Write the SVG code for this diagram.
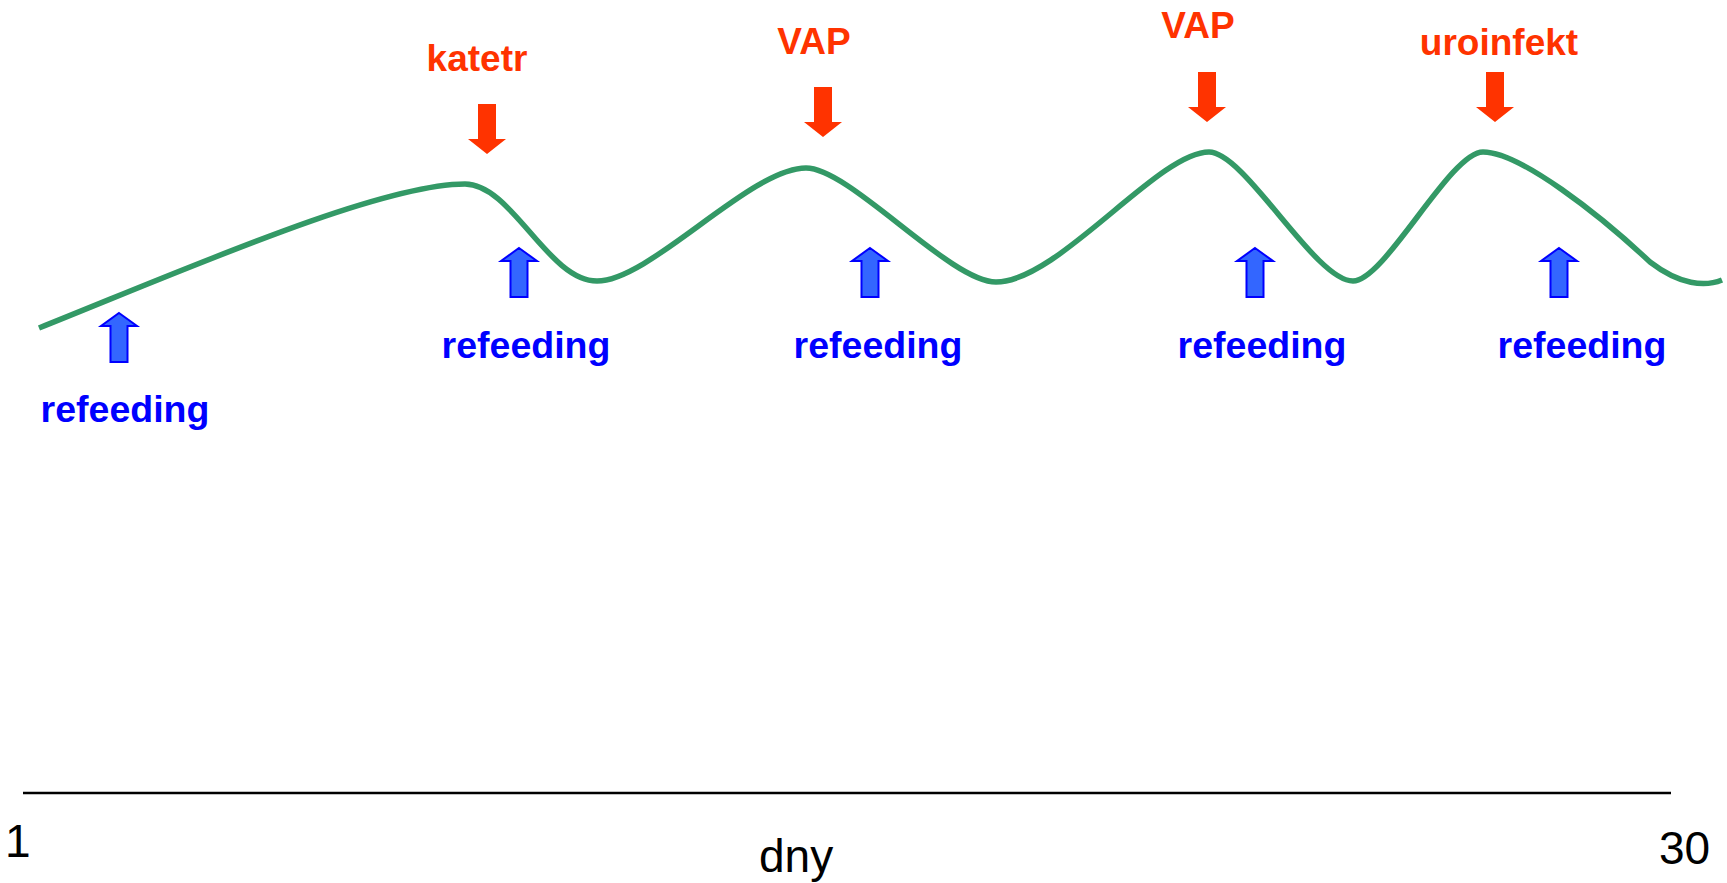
<svg xmlns="http://www.w3.org/2000/svg" width="1727" height="883" viewBox="0 0 1727 883">
<style>
.red{font-family:"Liberation Sans",Arial,sans-serif;font-weight:bold;font-size:37px;fill:#FF3300;text-anchor:middle}
.blue{font-family:"Liberation Sans",Arial,sans-serif;font-weight:bold;font-size:37.5px;fill:#0000FF;text-anchor:middle}
.num{font-family:"Liberation Sans",Arial,sans-serif;font-size:46px;fill:#000}
.up{fill:#3366FF;stroke:#0000FF;stroke-width:2;stroke-linejoin:miter}
.down{fill:#FF3300}
</style>
<defs>
<path id="uparrow" class="up" d="M0,0 L18,13 L8.5,13 L8.5,49 L-8.5,49 L-8.5,13 L-18,13 Z"/>
<path id="downarrow" class="down" d="M0,0 L19,-15 L9,-15 L9,-50 L-9,-50 L-9,-15 L-19,-15 Z"/>
</defs>
<rect width="1727" height="883" fill="#fff"/>
<g id="curve">
<path d="M39,328 C189,268 380,184 465,184 C512,184 548,281 597,281 C650,281 750,168 806,168 C850,168 950,282 996,282 C1058,282 1158,152 1209,152 C1245,152 1315,281 1353,281 C1385,281 1450,152 1483,152 C1520,152 1600,215 1650,262 C1680,285 1705,287 1722,280" fill="none" stroke="#339966" stroke-width="5.5"/>
</g>
<g id="axis">
<line x1="23" y1="793" x2="1671" y2="793" stroke="#000" stroke-width="2.5"/>
<text class="num" x="5" y="857">1</text>
<text class="num" x="1659" y="864">30</text>
<text class="num" x="759" y="872">dny</text>
</g>
<g id="events">
<g id="katetr"><use href="#downarrow" x="487" y="154"/><text class="red" x="477" y="71">katetr</text></g>
<g id="vap1"><use href="#downarrow" x="823" y="137"/><text class="red" x="814" y="54">VAP</text></g>
<g id="vap2"><use href="#downarrow" x="1207" y="122"/><text class="red" x="1198" y="38">VAP</text></g>
<g id="uroinfekt"><use href="#downarrow" x="1495" y="122"/><text class="red" x="1499" y="55">uroinfekt</text></g>
</g>
<g id="refeedings">
<g id="refeeding1"><use href="#uparrow" x="119" y="313"/><text class="blue" x="125" y="422">refeeding</text></g>
<g id="refeeding2"><use href="#uparrow" x="519" y="248"/><text class="blue" x="526" y="358">refeeding</text></g>
<g id="refeeding3"><use href="#uparrow" x="870" y="248"/><text class="blue" x="878" y="358">refeeding</text></g>
<g id="refeeding4"><use href="#uparrow" x="1255" y="248"/><text class="blue" x="1262" y="358">refeeding</text></g>
<g id="refeeding5"><use href="#uparrow" x="1559" y="248"/><text class="blue" x="1582" y="358">refeeding</text></g>
</g>
</svg>
